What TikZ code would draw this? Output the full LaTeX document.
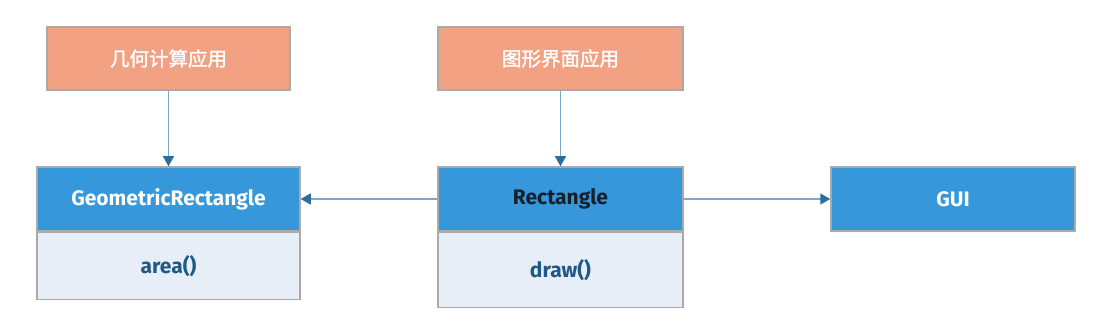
\documentclass[tikz,border=0pt]{standalone}
\usepackage{fontspec}
\setmainfont{Fira Sans}
\newfontfamily\cjk{Noto Sans CJK SC}
\usetikzlibrary{arrows.meta}
\definecolor{orangefill}{HTML}{F2A283}
\definecolor{bluefill}{HTML}{3698DA}
\definecolor{bodyfill}{HTML}{E8EEF7}
\definecolor{bordergray}{HTML}{AAAAAA}
\definecolor{linec}{HTML}{7EA8CB}
\definecolor{arrowc}{HTML}{2D6D9E}
\definecolor{bodytext}{HTML}{1E5A86}
\definecolor{darktext}{HTML}{15202B}
\tikzset{
  x=1pt, y=-1pt,
  box/.style={draw=bordergray, line width=1.5pt, inner sep=0pt},
  appbox/.style={box, fill=orangefill, text=white, font=\cjk\fontsize{19.5}{22}\selectfont\addfontfeature{FakeBold=1.5}},
  headbox/.style={box, fill=bluefill, text=white, font=\fontsize{21}{24}\selectfont\bfseries},
  bodybox/.style={box, fill=bodyfill, text=bodytext, font=\fontsize{21}{24}\selectfont\bfseries},
  conn/.style={draw=linec, line width=1.5pt, -{Triangle[length=10pt,width=11pt,color=arrowc]}, shorten >=0pt},
}
\begin{document}
\begin{tikzpicture}
\useasboundingbox (0,0) rectangle (1100,336);
% orange app boxes
\node[appbox, minimum width=243pt, minimum height=63pt] (app1) at (168.5,58.5) {几何计算应用};
\node[appbox, minimum width=245pt, minimum height=63pt] (app2) at (560.5,58.5) {图形界面应用};
% GeometricRectangle
\node[headbox, minimum width=263pt, minimum height=64pt] (grh) at (168.5,199) {GeometricRectangle};
\node[bodybox, minimum width=263pt, minimum height=67pt, anchor=north] (grb) at (grh.south) {area()};
% Rectangle
\node[headbox, text=darktext, minimum width=245pt, minimum height=64pt] (rh) at (560.5,199) {Rectangle};
\node[bodybox, minimum width=245pt, minimum height=75pt, anchor=north] (rb) at (rh.south) {draw()};
% GUI
\node[headbox, minimum width=244pt, minimum height=64pt] (gui) at (953,199) {GUI};
% connectors
\draw[conn] (app1.south) -- (grh.north);
\draw[conn] (app2.south) -- (rh.north);
\draw[conn] (rh.west) -- (grh.east);
\draw[conn] (rh.east) -- (gui.west);
\end{tikzpicture}
\end{document}
